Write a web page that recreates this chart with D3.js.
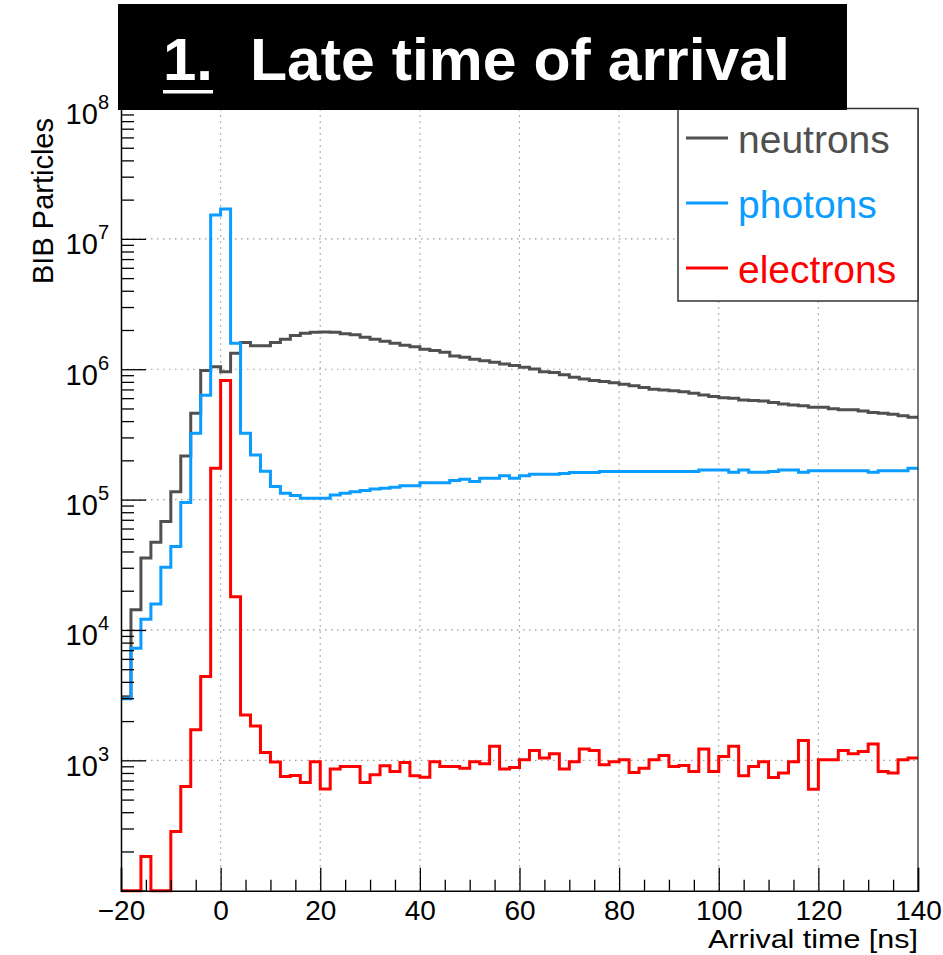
<!DOCTYPE html>
<html>
<head>
<meta charset="utf-8">
<script src="https://cdnjs.cloudflare.com/ajax/libs/d3/7.8.5/d3.min.js"></script>
<style>
body { margin: 0; background: #fff; }
text { font-family: "Liberation Sans", Arial, Helvetica, sans-serif; }
</style>
</head>
<body>
<div id="contents"></div>
<script>
// low edge of every 2 ns bin
var timeBins = [
	-20, -18, -16, -14, -12, -10, -8, -6, -4, -2,
	0, 2, 4, 6, 8, 10, 12, 14, 16, 18,
	20, 22, 24, 26, 28, 30, 32, 34, 36, 38,
	40, 42, 44, 46, 48, 50, 52, 54, 56, 58,
	60, 62, 64, 66, 68, 70, 72, 74, 76, 78,
	80, 82, 84, 86, 88, 90, 92, 94, 96, 98,
	100, 102, 104, 106, 108, 110, 112, 114, 116, 118,
	120, 122, 124, 126, 128, 130, 132, 134, 136, 138
];
var binWidth = 2;

var neutrons = [
	3070, 14300, 35600, 47100, 67800, 115000, 216000, 460000, 977000, 1047000,
	955000, 1327000, 1600000, 1514000, 1514000, 1600000, 1698000, 1811000, 1888000, 1923000,
	1928000, 1923000, 1871000, 1841000, 1758000, 1698000, 1641000, 1585000, 1528000, 1489000,
	1422000, 1390000, 1349000, 1265000, 1236000, 1194000, 1164000, 1132000, 1099000, 1067000,
	1035000, 1005000, 955000, 942000, 906000, 869000, 843000, 818000, 804000, 789000,
	767000, 748000, 723000, 703000, 693000, 685000, 673000, 655000, 635000, 617000,
	605000, 600000, 582000, 575000, 571000, 555000, 540000, 532000, 524000, 512000,
	512000, 497000, 488000, 488000, 479000, 465000, 460000, 452000, 439000, 429000
];

var photons = [
	2965, 7240, 12100, 15850, 30300, 43650, 94800, 323000, 631000, 15240000,
	16940000, 1585000, 323000, 220300, 165200, 125900, 111900, 107600, 102600, 102600,
	102600, 108600, 111900, 115100, 117200, 120800, 122200, 124500, 127900, 127900,
	134900, 134900, 134900, 140000, 143200, 137400, 145900, 145900, 152100, 145900,
	152100, 156700, 156700, 156700, 158500, 161100, 161100, 161100, 164100, 164100,
	164100, 164100, 164100, 164100, 164100, 164100, 164100, 164100, 169000, 169000,
	169000, 162200, 169000, 162200, 162200, 164100, 169000, 169000, 162200, 166700,
	166700, 166700, 166700, 166700, 166700, 162200, 166700, 166700, 166700, 174200
];

var electrons = [
	0, 0, 183, 0, 0, 284, 630, 1714, 4400, 174000,
	818000, 18000, 2230, 1830, 1150, 970, 752, 764, 676, 977,
	604, 857, 896, 896, 676, 774, 907, 820, 962, 760,
	743, 977, 896, 896, 871, 977, 940, 1280, 857, 881,
	1009, 1190, 1040, 1122, 857, 977, 1219, 1190, 925, 977,
	1009, 807, 871, 1009, 1089, 896, 912, 820, 1219, 820,
	1069, 1280, 760, 896, 977, 738, 798, 977, 1419, 601,
	1009, 1009, 1190, 1122, 1167, 1337, 820, 798, 1009, 1040
];

var seriesNames = ["neutrons", "photons", "electrons"];
var seriesColors = ["#505050", "#0a9cff", "#ff0000"];

var xMajor = [-20, 0, 20, 40, 60, 80, 100, 120, 140];
var xMinor = [-15, -10, -5, 5, 10, 15, 25, 30, 35, 45, 50, 55, 65, 70, 75,
	85, 90, 95, 105, 110, 115, 125, 130, 135];
var xGrid = [0, 20, 40, 60, 80, 100, 120];
var yMajor = [1e3, 1e4, 1e5, 1e6, 1e7, 1e8];
var yExponents = ["3", "4", "5", "6", "7", "8"];
var yGrid = [1e3, 1e4, 1e5, 1e6, 1e7];

var titleNumber = "1.";
var titleText = "Late time of arrival";
var xTitle = "Arrival time [ns]";
var yTitle = "BIB Particles";

var Chart = function() {
	this.svg = d3.select("#contents")
		.append("svg")
		.attr("width", 943)
		.attr("height", 955);
	this.x = d3.scaleLinear().domain([-20, 140]).range([121, 918]);
	this.y = d3.scaleLog().domain([100, 1e8]).range([890.7, 108.5]);
};

Chart.prototype.grid = function() {
	var x = this.x, y = this.y;
	var g = this.svg.append("g")
		.attr("stroke", "#9a9a9a")
		.attr("stroke-width", 1.2)
		.attr("stroke-dasharray", "1.5,4.5");
	g.selectAll("line.gx")
		.data(xGrid)
		.enter()
		.append("line")
		.attr("x1", function(d) { return x(d); })
		.attr("x2", function(d) { return x(d); })
		.attr("y1", y.range()[0])
		.attr("y2", y.range()[1]);
	g.selectAll("line.gy")
		.data(yGrid)
		.enter()
		.append("line")
		.attr("x1", x.range()[0])
		.attr("x2", x.range()[1])
		.attr("y1", function(d) { return y(d); })
		.attr("y2", function(d) { return y(d); });
};

Chart.prototype.hists = function() {
	var x = this.x, y = this.y;
	var lo = y.domain()[0];
	var line = d3.line()
		.x(function(d) { return x(d[0]); })
		.y(function(d) { return y(Math.max(d[1], lo)); })
		.curve(d3.curveStepAfter);
	var all = [neutrons, photons, electrons];
	all.forEach(function(vals, i) {
		var pts = timeBins.map(function(t, k) { return [t, vals[k]]; });
		pts.push([timeBins[timeBins.length - 1] + binWidth, vals[vals.length - 1]]);
		this.svg.append("path")
			.attr("d", line(pts))
			.attr("fill", "none")
			.attr("stroke", seriesColors[i])
			.attr("stroke-width", 3)
			.attr("stroke-linejoin", "miter");
	}.bind(this));
};

Chart.prototype.axes = function() {
	var x = this.x, y = this.y;
	var x0 = x.range()[0], x1 = x.range()[1];
	var y0 = y.range()[0], y1 = y.range()[1];

	// frame top / right
	this.svg.append("path")
		.attr("d", "M" + x0 + "," + y1 + "H" + x1 + "V" + y0)
		.attr("fill", "none")
		.attr("stroke", "#222")
		.attr("stroke-width", 1.2);

	var gxm = this.svg.append("g")
		.attr("transform", "translate(0," + y0 + ")")
		.call(d3.axisBottom(x).tickValues(xMinor).tickSize(-11).tickFormat(""));
	gxm.select(".domain").remove();

	var gx = this.svg.append("g")
		.attr("transform", "translate(0," + y0 + ")")
		.call(d3.axisBottom(x).tickValues(xMajor).tickSize(-23).tickPadding(9)
			.tickFormat(function(d) { return d < 0 ? "\u2212" + (-d) : d; }));
	gx.selectAll("text")
		.attr("font-size", 28)
		.attr("font-family", null)
		.attr("fill", "#000");

	var minors = [];
	[100, 1e3, 1e4, 1e5, 1e6, 1e7].forEach(function(dec) {
		[2, 3, 4, 5, 6, 7, 8, 9].forEach(function(m) { minors.push(dec * m); });
	});
	var gym = this.svg.append("g")
		.attr("transform", "translate(" + x0 + ",0)")
		.call(d3.axisLeft(y).tickValues(minors).tickSize(-13).tickFormat(""));
	gym.select(".domain").remove();

	var gy = this.svg.append("g")
		.attr("transform", "translate(" + x0 + ",0)")
		.call(d3.axisLeft(y).tickValues(yMajor).tickSize(-25).tickPadding(12)
			.tickFormat(function() { return ""; }));
	gy.selectAll(".tick text").each(function(d, i) {
		var t = d3.select(this)
			.attr("dy", 15)
			.attr("font-size", 29)
			.attr("font-family", null)
			.attr("fill", "#000");
		t.append("tspan").text("10");
		t.append("tspan")
			.attr("font-size", 20)
			.attr("dy", -15)
			.text(yExponents[i]);
	});

	this.svg.selectAll(".domain")
		.attr("stroke", "#000")
		.attr("stroke-width", 1.5);
	this.svg.selectAll(".tick line")
		.attr("stroke", "#000")
		.attr("stroke-width", 1.3);

	this.svg.append("text")
		.attr("x", x1)
		.attr("y", 948)
		.attr("text-anchor", "end")
		.attr("font-size", 26)
		.attr("textLength", 210)
		.attr("lengthAdjust", "spacingAndGlyphs")
		.text(xTitle);

	this.svg.append("text")
		.attr("transform", "translate(53,118) rotate(-90)")
		.attr("text-anchor", "end")
		.attr("font-size", 29)
		.text(yTitle);
};

Chart.prototype.legend = function() {
	var g = this.svg.append("g");
	g.append("rect")
		.attr("x", 678)
		.attr("y", 108.5)
		.attr("width", 240)
		.attr("height", 192.5)
		.attr("fill", "#fff")
		.attr("stroke", "#333")
		.attr("stroke-width", 1.5);
	var rows = g.selectAll("g.row")
		.data(seriesNames)
		.enter()
		.append("g")
		.attr("transform", function(d, i) { return "translate(0," + (138 + i * 65) + ")"; });
	rows.append("line")
		.attr("x1", 686)
		.attr("x2", 728)
		.attr("stroke", function(d, i) { return seriesColors[i]; })
		.attr("stroke-width", 3);
	rows.append("text")
		.attr("x", 738)
		.attr("y", 15)
		.attr("font-size", 39)
		.attr("fill", function(d, i) { return seriesColors[i]; })
		.text(function(d) { return d; });
};

Chart.prototype.title = function() {
	this.svg.append("rect")
		.attr("x", 118)
		.attr("y", 4)
		.attr("width", 729)
		.attr("height", 106)
		.attr("fill", "#000");
	this.svg.append("text")
		.attr("x", 163)
		.attr("y", 80)
		.attr("font-size", 60)
		.attr("font-weight", "bold")
		.attr("fill", "#fff")
		.text(titleNumber);
	this.svg.append("rect")
		.attr("x", 163)
		.attr("y", 90)
		.attr("width", 50)
		.attr("height", 3.5)
		.attr("fill", "#fff");
	this.svg.append("text")
		.attr("x", 250)
		.attr("y", 80)
		.attr("font-size", 60)
		.attr("font-weight", "bold")
		.attr("fill", "#fff")
		.attr("textLength", 540)
		.attr("lengthAdjust", "spacingAndGlyphs")
		.text(titleText);
};

(function() {
	var chart = new Chart();
	chart.grid();
	chart.hists();
	chart.axes();
	chart.legend();
	chart.title();
})();
</script>
</body>
</html>
